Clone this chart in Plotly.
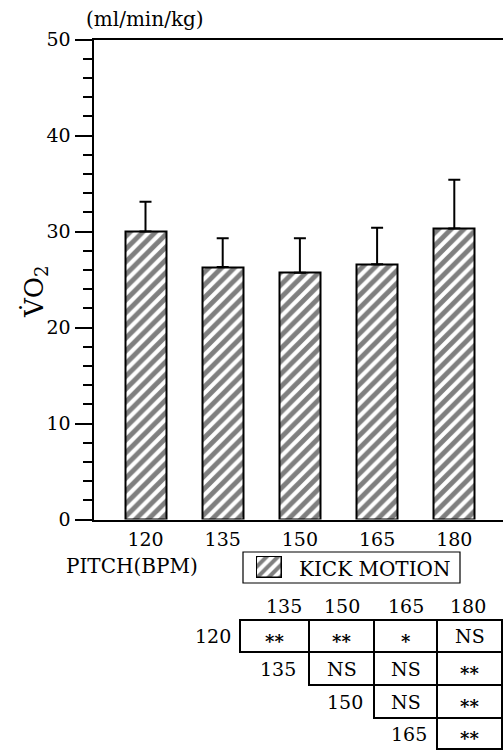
import plotly.graph_objects as go

# ---------------- data ----------------
pitch = ["120", "135", "150", "165", "180"]
vo2_mean = [30.0, 26.3, 25.7, 26.6, 30.3]
vo2_sd = [3.1, 3.0, 3.6, 3.8, 5.1]
series_name = "KICK MOTION"
y_tick_vals = [0, 10, 20, 30, 40, 50]
unit_label = "(ml/min/kg)"
x_title = "PITCH(BPM)"
y_title = "V\u0307O<sub>2</sub>"
sig_cols = ["135", "150", "165", "180"]
sig_rows = ["120", "135", "150", "165"]
sig_table = [["**", "**", "*", "NS"],
             ["NS", "NS", "**"],
             ["NS", "**"],
             ["**"]]

# ---------------- layout constants (pixels) ----------------
W, H = 503, 750
FONT = "DejaVu Serif"
PLOT_L, PLOT_R, PLOT_T, PLOT_B = 93.5, 503, 39.5, 519.5
FIRST_CENTER, STEP, BAR_W = 145.5, 77.2, 41
SW_L, SW_R, SW_T, SW_B = 256, 283, 556, 579
LEG_BOX = (243, 552, 460, 583)
COL_EDGES = [240, 309, 374, 437, 502]
ROW_EDGES = [620, 652, 685, 718, 749]
HEADER_X = [284, 342, 406, 468]
HEADER_Y = 606


def px(x):
    return x / W


def py(y):
    return 1 - y / H


xs = list(range(len(pitch)))
x0 = -(FIRST_CENTER - PLOT_L) / STEP
x1 = (PLOT_R - FIRST_CENTER) / STEP

pattern = dict(shape="/", fgcolor="black", bgcolor="white", size=9, solidity=0.55, fillmode="overlay")

fig = go.Figure()
fig.add_trace(go.Bar(
    x=xs, y=vo2_mean, width=BAR_W / STEP, name=series_name,
    marker=dict(color="white", line=dict(color="black", width=2), pattern=pattern),
    error_y=dict(type="data", array=vo2_sd, arrayminus=[0] * len(vo2_sd), symmetric=False,
                 color="black", thickness=2, width=6),
    showlegend=False, xaxis="x", yaxis="y",
))
# legend swatch
fig.add_trace(go.Bar(
    x=[0], y=[1], width=1, name=series_name,
    marker=dict(color="white", line=dict(color="black", width=1.5),
                pattern=dict(shape="/", fgcolor="black", bgcolor="white", size=8, solidity=0.5, fillmode="overlay")),
    showlegend=False, xaxis="x2", yaxis="y2",
))

axis_font = dict(family=FONT, size=19, color="black")
fig.update_layout(
    width=W, height=H,
    margin=dict(l=0, r=0, t=0, b=0, autoexpand=False),
    paper_bgcolor="white", plot_bgcolor="white",
    font=dict(family=FONT, color="black"),
    xaxis=dict(domain=[px(PLOT_L), px(PLOT_R)], range=[x0, x1], automargin=False,
               tickmode="array", tickvals=xs, ticktext=pitch, tickfont=axis_font,
               showline=True, linecolor="black", linewidth=2, mirror=True,
               ticks="", showgrid=False, zeroline=False, ticklabelstandoff=2),
    yaxis=dict(domain=[py(PLOT_B), py(PLOT_T)], range=[0, 50], automargin=False,
               tickmode="array", tickvals=y_tick_vals, tickfont=axis_font,
               showline=True, linecolor="black", linewidth=2, mirror=False,
               ticks="outside", ticklen=17, tickwidth=2, tickcolor="black",
               minor=dict(dtick=2, ticks="outside", ticklen=9, tickwidth=2, tickcolor="black", showgrid=False),
               showgrid=False, zeroline=False, ticklabelstandoff=0),
    xaxis2=dict(domain=[px(SW_L), px(SW_R)], range=[-0.56, 0.56], visible=False, anchor="y2",
                fixedrange=True, automargin=False),
    yaxis2=dict(domain=[py(SW_B), py(SW_T)], range=[-0.05, 1.05], visible=False, anchor="x2",
                fixedrange=True, automargin=False),
    bargap=0,
)

shapes = []
annotations = []

# legend box
shapes.append(dict(type="rect", xref="paper", yref="paper",
                   x0=px(LEG_BOX[0]), x1=px(LEG_BOX[2]), y0=py(LEG_BOX[3]), y1=py(LEG_BOX[1]),
                   line=dict(color="black", width=1.2)))
annotations.append(dict(text=series_name, xref="paper", yref="paper", x=px(297), y=py(568.5),
                        xanchor="left", yanchor="middle", showarrow=False,
                        font=dict(family=FONT, size=20, color="black")))

# texts
annotations.append(dict(text=unit_label, xref="paper", yref="paper", x=px(145), y=py(19),
                        xanchor="center", yanchor="middle", showarrow=False,
                        font=dict(family=FONT, size=20, color="black")))
annotations.append(dict(text=x_title, xref="paper", yref="paper", x=px(132), y=py(566),
                        xanchor="center", yanchor="middle", showarrow=False,
                        font=dict(family=FONT, size=20, color="black")))
annotations.append(dict(text=y_title, xref="paper", yref="paper", x=px(35), y=py(292),
                        xanchor="center", yanchor="middle", showarrow=False, textangle=-90,
                        font=dict(family=FONT, size=26, color="black")))

# significance table
cell_font = dict(family=FONT, size=19, color="black")
for j, lab in enumerate(sig_cols):
    annotations.append(dict(text=lab, xref="paper", yref="paper", x=px(HEADER_X[j]), y=py(HEADER_Y),
                            xanchor="center", yanchor="middle", showarrow=False, font=cell_font))
for i, row_lab in enumerate(sig_rows):
    yc = (ROW_EDGES[i] + ROW_EDGES[i + 1]) / 2
    if i == 0:
        annotations.append(dict(text=row_lab, xref="paper", yref="paper", x=px(COL_EDGES[0] - 7), y=py(yc),
                                xanchor="right", yanchor="middle", showarrow=False, font=cell_font))
    else:
        xc = (COL_EDGES[i - 1] + COL_EDGES[i]) / 2 + 3
        annotations.append(dict(text=row_lab, xref="paper", yref="paper", x=px(xc), y=py(yc),
                                xanchor="center", yanchor="middle", showarrow=False, font=cell_font))
    for k, val in enumerate(sig_table[i]):
        j = i + k
        cx0, cx1 = COL_EDGES[j], COL_EDGES[j + 1]
        shapes.append(dict(type="rect", xref="paper", yref="paper",
                           x0=px(cx0), x1=px(cx1), y0=py(ROW_EDGES[i + 1]), y1=py(ROW_EDGES[i]),
                           line=dict(color="black", width=2)))
        is_star = "*" in val
        annotations.append(dict(text="<b>" + val + "</b>" if is_star else val,
                                xref="paper", yref="paper", x=px((cx0 + cx1) / 2), y=py(yc),
                                xanchor="center", yanchor="middle", showarrow=False,
                                yshift=-5 if is_star else 0,
                                font=dict(family=FONT, size=18 if is_star else 19, color="black")))

fig.update_layout(shapes=shapes, annotations=annotations)
fig.write_html("out.html", config={"displayModeBar": False},
               post_script="document.body.style.margin='0';document.body.style.padding='0';")
